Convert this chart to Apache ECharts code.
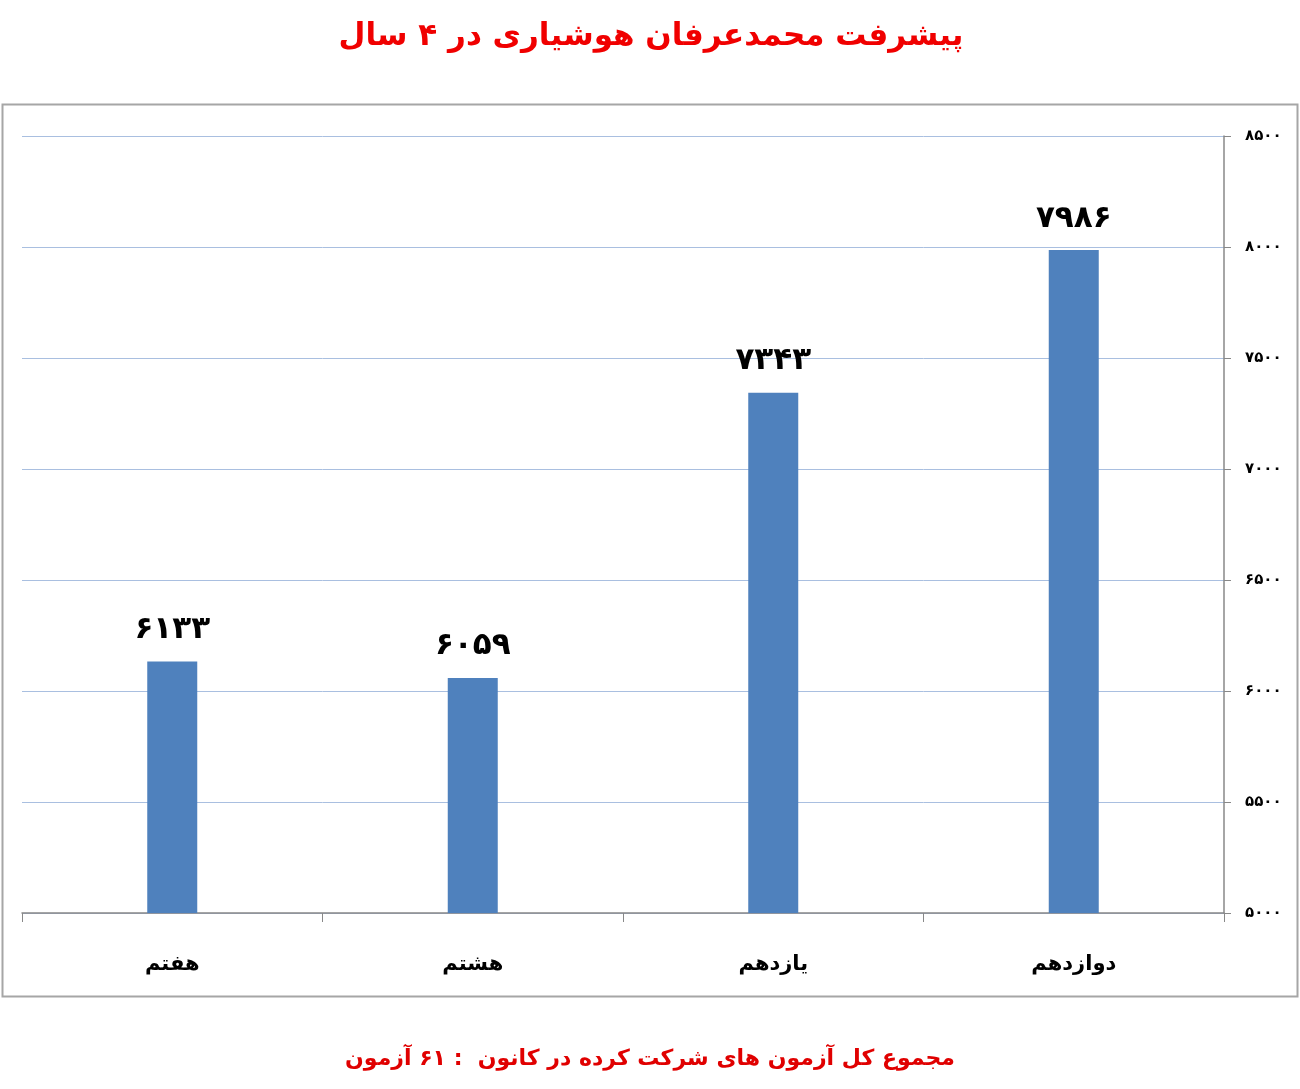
<!DOCTYPE html>
<html><head><meta charset="utf-8">
<script src="https://cdn.jsdelivr.net/npm/echarts@6/dist/echarts.min.js"></script>
<style>html,body{margin:0;padding:0;background:#fff}#c{width:1300px;height:1089px}</style>
</head><body><div id="c"></div>
<script>
const categories = ['هفتم', 'هشتم', 'یازدهم', 'دوازدهم'];
const scores = [6133, 6059, 7343, 7986];
const titleText = 'پیشرفت محمدعرفان هوشیاری در ۴ سال';
const footerText = 'مجموع کل آزمون های شرکت کرده در کانون  : ۶۱ آزمون';
const yMin = 5000, yMax = 8500, yStep = 500;

const fa = s => String(s).replace(/[0-9]/g, d => '۰۱۲۳۴۵۶۷۸۹'[d]);
const FONT = '"DejaVu Sans", "Noto Sans", sans-serif';

const chart = echarts.init(document.getElementById('c'));
chart.setOption({
  animation: false,
  backgroundColor: '#fff',
  title: [{
    text: titleText, left: 646, top: 16, textAlign: 'center',
    textStyle: {color: '#f00000', fontSize: 31, fontWeight: 'bold', fontFamily: FONT}
  }, {
    text: footerText, left: 645, top: 1043, textAlign: 'center',
    textStyle: {color: '#e00000', fontSize: 22, fontWeight: 'bold', fontFamily: FONT}
  }],
  graphic: [{
    type: 'rect', shape: {x: 2.5, y: 104.5, width: 1295, height: 892},
    style: {fill: 'none', stroke: '#a6a6a6', lineWidth: 2}, silent: true, z: -1
  }],
  grid: {left: 22, right: 76, top: 136, bottom: 176},
  xAxis: {
    type: 'category', data: categories,
    axisLine: {lineStyle: {color: '#888', width: 1.5}},
    axisTick: {show: true, length: 9, lineStyle: {color: '#888'}},
    axisLabel: {margin: 41, color: '#000', fontSize: 21, fontWeight: 'bold', fontFamily: FONT}
  },
  yAxis: {
    type: 'value', position: 'right', min: yMin, max: yMax, interval: yStep,
    axisLine: {show: true, lineStyle: {color: '#888', width: 1.5}},
    axisTick: {show: true, length: 7, lineStyle: {color: '#888'}},
    splitLine: {lineStyle: {color: '#a9bfe0', width: 1}},
    axisLabel: {margin: 21, color: '#000', fontSize: 15, fontWeight: 'bold', fontFamily: FONT,
      formatter: v => fa(v)}
  },
  series: [{
    type: 'bar', data: scores, barWidth: 50,
    itemStyle: {color: '#4f81bd'},
    label: {show: true, position: 'top', distance: 16, color: '#000', fontSize: 31, fontWeight: 'bold',
      fontFamily: FONT, formatter: p => fa(p.value)}
  }]
});
</script></body></html>
